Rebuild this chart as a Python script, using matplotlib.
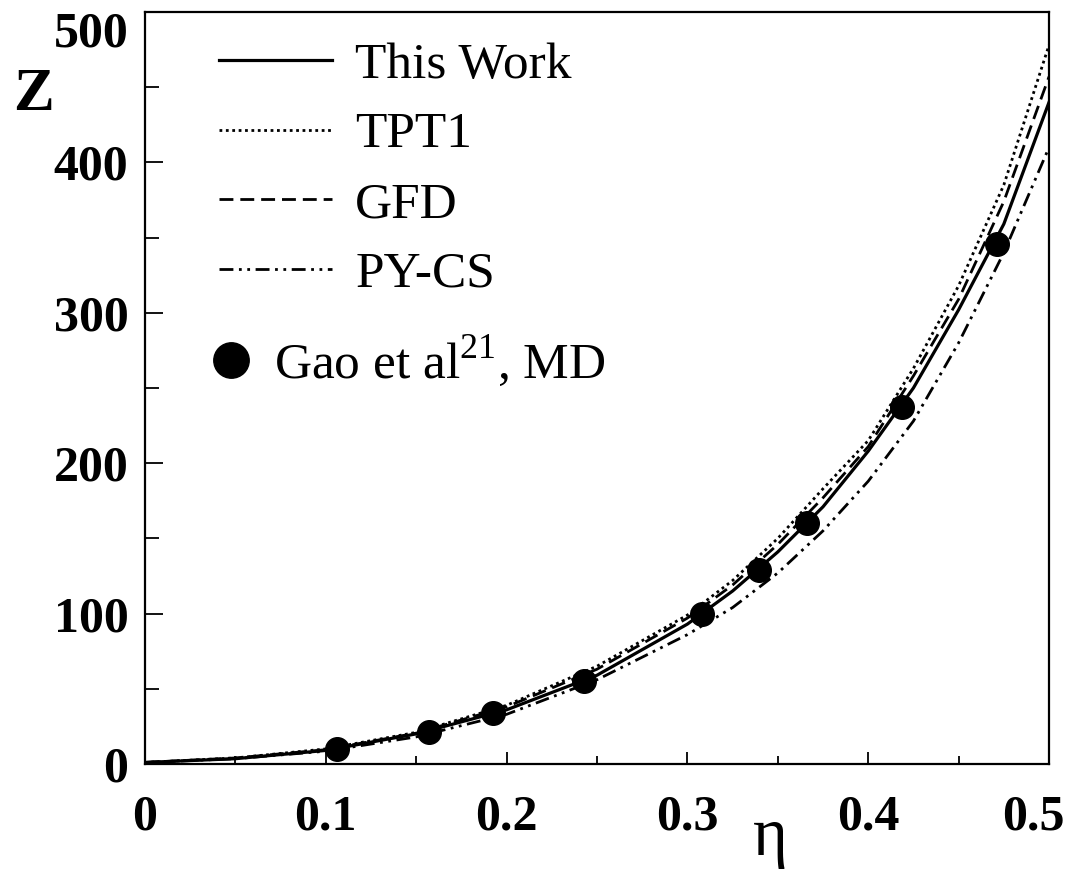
import numpy as np
import matplotlib
matplotlib.use('Agg')
import matplotlib.pyplot as plt
import matplotlib.transforms as mtransforms

plt.rcParams['font.family'] = ['Liberation Serif', 'DejaVu Serif']
plt.rcParams['mathtext.fontset'] = 'custom'
plt.rcParams['mathtext.rm'] = 'Liberation Serif'

# curves
eta = [0, 0.05, 0.1, 0.15, 0.2, 0.25, 0.3, 0.325, 0.35, 0.375, 0.4, 0.425, 0.45, 0.475, 0.5]
z_this_work = [1, 3.5, 9, 20, 36, 59, 93, 115, 141, 171, 208, 250, 302, 359, 440]
z_tpt1 = [1, 4, 10, 21, 39, 65, 99, 122, 150, 183, 215, 263, 318, 385, 478]
z_gfd = [1, 4, 9.5, 20.5, 38, 63, 97, 119, 146, 177, 211, 258, 309, 374, 457]
z_pycs = [1, 3.5, 8.5, 18, 33, 56, 86, 104, 127, 155, 188, 228, 280, 340, 410]

# MD points (Gao et al)
md_eta = [0.106, 0.157, 0.1925, 0.243, 0.308, 0.3396, 0.3663, 0.4185, 0.471]
md_z = [10, 21.5, 34, 55.4, 100, 129, 160, 237.6, 346]

xticks = [0, 0.1, 0.2, 0.3, 0.4, 0.5]
xticklabels = ['0', '0.1', '0.2', '0.3', '0.4', '0.5']
yticks = [0, 100, 200, 300, 400, 500]
yticklabels = ['0', '100', '200', '300', '400', '500']

fig = plt.figure(figsize=(10.7, 8.75), dpi=100)
ax = fig.add_axes([0.1355, 0.1269, 0.8449, 0.8594])

l1, = ax.plot(eta, z_this_work, color='k', lw=2.3, ls='-', label='This Work')
l2, = ax.plot(eta, z_tpt1, color='k', lw=2.0, ls=(0, (1, 1.3)), label='TPT1')
l3, = ax.plot(eta, z_gfd, color='k', lw=2.0, ls=(0, (5, 2.5)), label='GFD')
l4, = ax.plot(eta, z_pycs, color='k', lw=2.0, ls=(0, (5, 2, 1, 2, 1, 2)), label='PY-CS')
l5, = ax.plot(md_eta, md_z, 'o', color='k', ms=17, ls='none', label='Gao et al$^{21}$, MD')

ax.set_xlim(0, 0.5)
ax.set_ylim(0, 500)

for sp in ax.spines.values():
    sp.set_linewidth(1.6)

ax.set_xticks(xticks)
ax.set_xticklabels(xticklabels, fontsize=36, fontweight='bold')
ax.set_xticks(np.arange(0.05, 0.5, 0.1), minor=True)
ax.set_yticks(yticks)
ax.set_yticklabels(yticklabels, fontsize=36, fontweight='bold')
ax.set_yticks(np.arange(50, 500, 100), minor=True)
ax.tick_params(axis='x', which='major', direction='in', length=9, width=1.3, pad=22)
ax.tick_params(axis='x', which='minor', direction='in', length=5.5, width=1.3)
ax.tick_params(axis='y', which='major', direction='in', length=13, width=1.3, pad=12)
ax.tick_params(axis='y', which='minor', direction='in', length=10, width=1.3)

# last x label sits a bit to the left, top y label hangs below its tick
lab = ax.get_xticklabels()[-1]
lab.set_transform(lab.get_transform() + mtransforms.ScaledTranslation(-0.16, 0, fig.dpi_scale_trans))
ax.get_yticklabels()[-1].set_va('top')

leg1 = ax.legend(handles=[l1, l2, l3, l4], loc='upper left', bbox_to_anchor=(0.042, 1.008),
                 frameon=False, fontsize=37, handlelength=2.2, handletextpad=0.45,
                 labelspacing=0.44, borderpad=0.2)
ax.add_artist(leg1)
ax.legend(handles=[l5], loc='upper left', bbox_to_anchor=(0.038, 0.62),
          frameon=False, fontsize=37, handlelength=0.6, handletextpad=0.55,
          markerscale=1.5, borderpad=0.2)

fig.text(0.031, 0.891, 'Z', fontsize=44, fontweight='bold', ha='center', va='center')
fig.text(0.72, 0.042, 'η', fontsize=48, ha='center', va='center')

plt.savefig('out.png', dpi=100)
